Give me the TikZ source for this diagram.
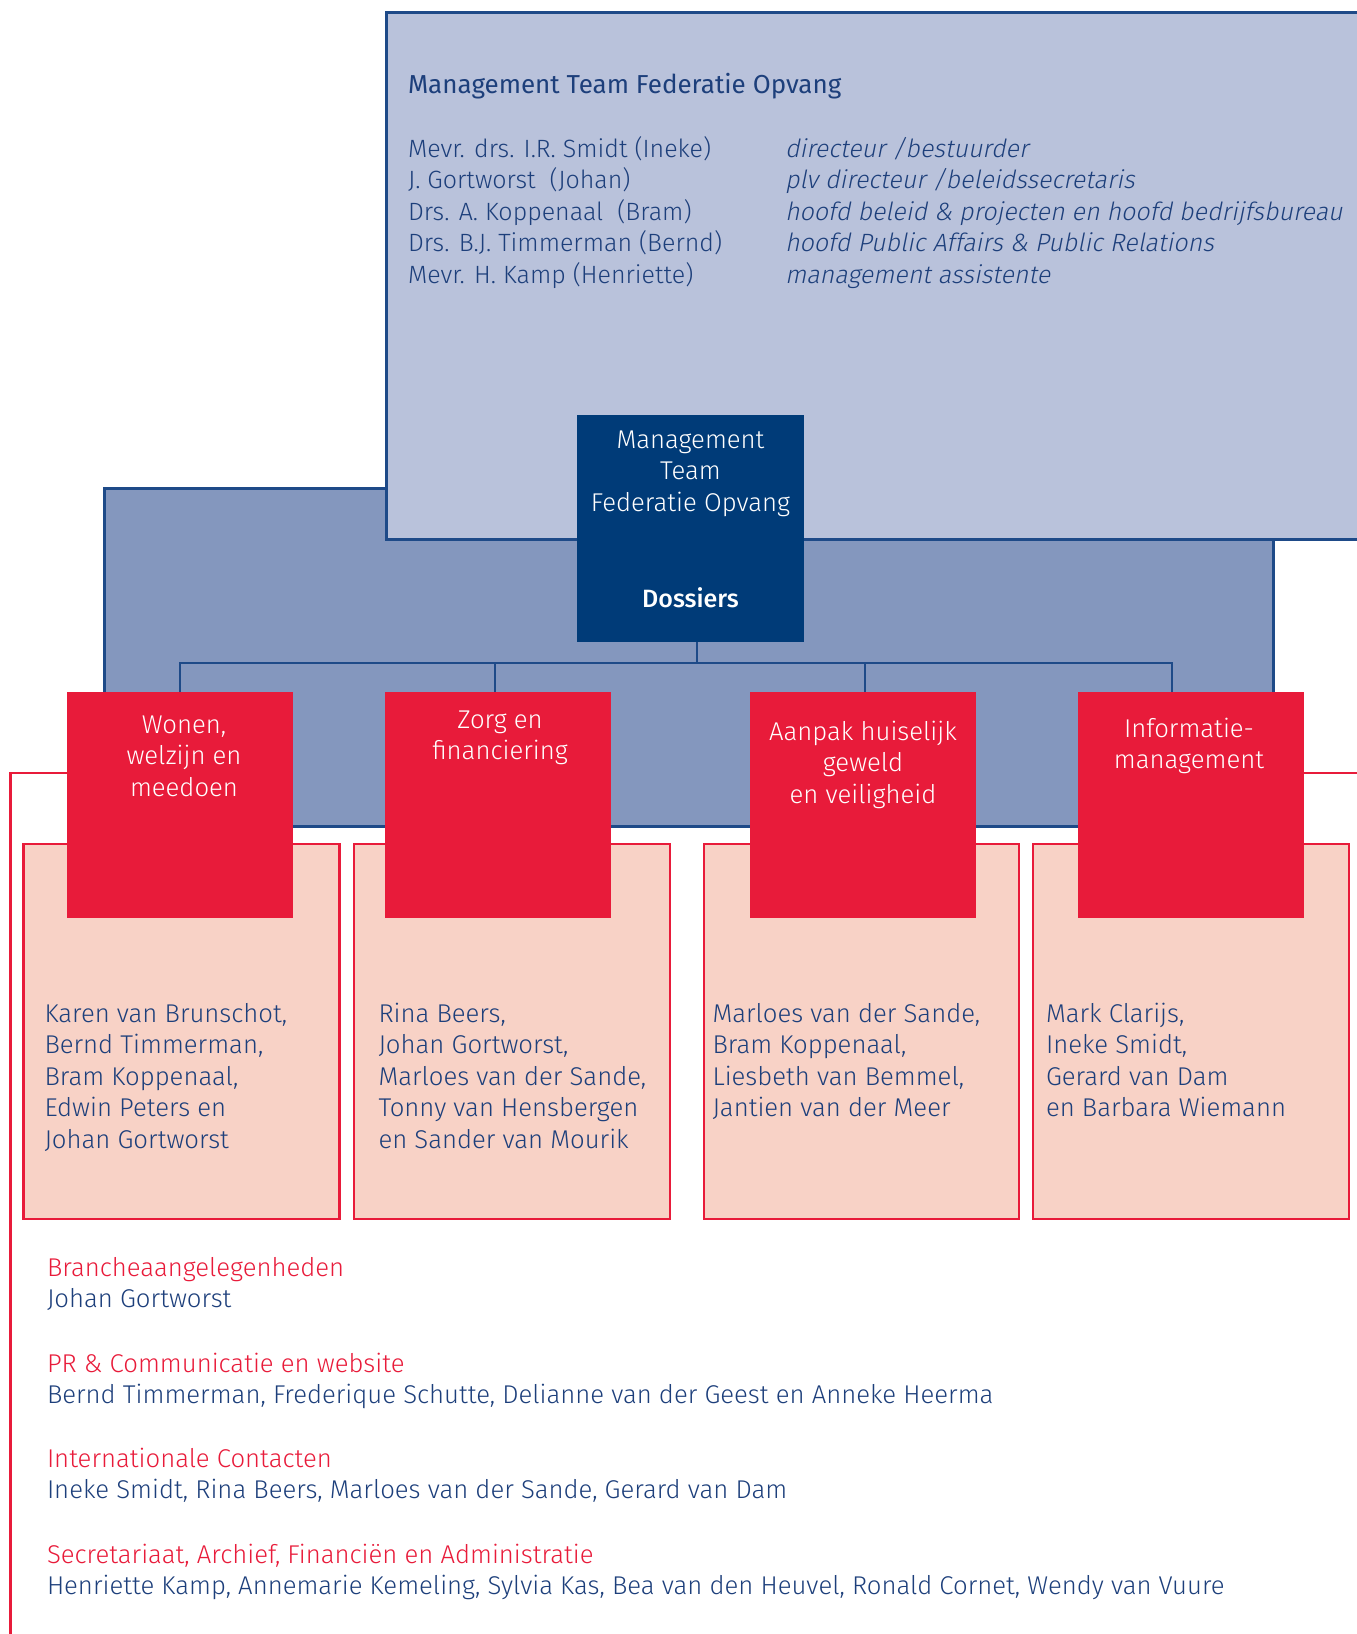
\documentclass[tikz,border=0pt]{standalone}
\usepackage{fontspec}
\newfontfamily\mtregular{Fira Sans}
\IfFontExistsTF{Fira Sans Light}{\setmainfont{Fira Sans Light}
  \newfontfamily\mtitalic{Fira Sans Light}[FakeSlant=0.2]}
  {\setmainfont{Fira Sans}\newfontfamily\mtitalic{Fira Sans}[FakeSlant=0.2]}
\IfFontExistsTF{Fira Sans Medium}{\newfontfamily\mtmedium{Fira Sans Medium}}
  {\def\mtmedium{\mtregular\bfseries}}
\usetikzlibrary{positioning}

\definecolor{mtpale}{HTML}{B9C2DB}
\definecolor{mtmid}{HTML}{8497BE}
\definecolor{mtdark}{HTML}{003B78}
\definecolor{mtline}{HTML}{1E4A88}
\definecolor{mttext}{HTML}{1D3F7B}
\definecolor{fored}{HTML}{E81B3A}
\definecolor{fopink}{HTML}{F8D2C6}

\begin{document}
\begin{tikzpicture}[x=1pt, y=-1pt,
  every node/.style={inner sep=0pt, outer sep=0pt},
  body/.style={font=\fontsize{25.7}{31.5}\selectfont},
  names/.style={body, text=mttext, align=left, anchor=base west},
  board/.style={names, font=\fontsize{25}{31.5}\selectfont},
  heading/.style={body, text=fored, anchor=base west},
  person/.style={body, text=mttext, anchor=base west},
  block/.style={anchor=north west, line width=3pt, draw=mtline},
  team/.style={block, fill=mtpale, minimum width=990pt, minimum height=527pt},
  dossier/.style={block, fill=mtmid, minimum width=1169pt, minimum height=338pt},
  core/.style={anchor=north west, fill=mtdark, minimum size=227pt},
  topic/.style={anchor=north west, fill=fored, minimum size=226pt},
  members/.style={anchor=north west, fill=fopink, draw=fored, line width=2.5pt,
    minimum width=316pt, minimum height=375pt},
  boxtext/.style={body, text=white, align=center, anchor=base},
  link/.style={draw=mtline, line width=2.5pt}]
\useasboundingbox (0,0) rectangle (1357,1634);

% red frame behind everything
\draw[fored, line width=2.5pt] (1367,773) -- (10.5,773) -- (10.5,1644);

% blue blocks
\node (dos) [dossier] at (104,488) {};
\node (team) [team] at (386,12) {};
\node (title) [font=\mtregular\fontsize{26}{31.5}\selectfont, text=mttext,
  anchor=base west] at (408,93) {Management Team Federatie Opvang};
% multi-line nodes sit on the baseline of their last line
\node (who) [board] at (408,283) {Mevr. drs. I.R. Smidt (Ineke)\\
  J. Gortworst\ \ (Johan)\\ Drs. A. Koppenaal\ \ (Bram)\\
  Drs. B.J. Timmerman (Bernd)\\ Mevr. H. Kamp (Henriette)};
\node (role) [board, font=\mtitalic\fontsize{25}{31.5}\selectfont] at (785,283)
  {directeur /bestuurder\\ plv directeur /beleidssecretaris\\
  hoofd beleid \& projecten en hoofd bedrijfsbureau\\
  hoofd Public Affairs \& Public Relations\\ management assistente};

\node (MT) [core] at (577,415) {};
\node [boxtext] at ([yshift=-96pt]MT.north) {Management\\Team\\Federatie Opvang};
\node [boxtext, font=\mtmedium\fontsize{25}{31.5}\selectfont]
  at ([yshift=-192pt]MT.north) {Dossiers};

% member boxes
\node (wonenP) [members] at (23.5,844) {};
\node (zorgP) [members] at (354,844) {};
\node (aanpakP) [members, minimum width=315pt] at (704,844) {};
\node (infoP) [members] at (1033,844) {};

% dossier boxes
\node (wonen) [topic] at (67,692) {};
\node (zorg) [topic] at (385,692) {};
\node (aanpak) [topic] at (750,692) {};
\node (info) [topic] at (1078,692) {};
\node [boxtext] at ([xshift=4pt, yshift=-104pt]wonen.north) {Wonen,\\welzijn en\\meedoen};
\node [boxtext] at ([xshift=2pt, yshift=-67.5pt]zorg.north) {Zorg en\\financiering};
\node [boxtext] at ([yshift=-111pt]aanpak.north) {Aanpak huiselijk\\geweld\\en veiligheid};
\node [boxtext] at ([xshift=-2pt, yshift=-76.5pt]info.north) {Informatie-\\management};

% connectors
\coordinate (bus) at (697,663);
\coordinate (zorgdrop) at ([xshift=-3pt]zorg.north);
\coordinate (aanpakdrop) at ([xshift=2pt]aanpak.north);
\coordinate (infodrop) at ([xshift=-19pt]info.north);
\draw[link] (MT.south -| bus) -- (bus);
\draw[link] (wonen.north) -- (wonen.north |- bus) -- (infodrop |- bus) -- (infodrop);
\draw[link] (zorgdrop |- bus) -- (zorgdrop);
\draw[link] (aanpakdrop |- bus) -- (aanpakdrop);

% names in the member boxes
\node (wonenN) [names] at (44.5,1148) {Karen van Brunschot,\\Bernd Timmerman,\\
  Bram Koppenaal,\\Edwin Peters en\\Johan Gortworst};
\node (zorgN) [names] at (378.5,1148) {Rina Beers,\\Johan Gortworst,\\
  Marloes van der Sande,\\Tonny van Hensbergen\\en Sander van Mourik};
\node (aanpakN) [names] at (712.5,1116.5) {Marloes van der Sande,\\Bram Koppenaal,\\
  Liesbeth van Bemmel,\\Jantien van der Meer};
\node (infoN) [names] at (1046,1116.5) {Mark Clarijs,\\Ineke Smidt,\\
  Gerard van Dam\\en Barbara Wiemann};

% other tasks
\node (branche) [heading] at (47,1276) {Brancheaangelegenheden};
\node (brancheP) [person] at (47,1307) {Johan Gortworst};
\node (pr) [heading] at (47,1372) {PR \& Communicatie en website};
\node (prP) [person] at (47,1403) {Bernd Timmerman, Frederique Schutte, Delianne van der Geest en Anneke Heerma};
\node (intl) [heading] at (47,1467) {Internationale Contacten};
\node (intlP) [person] at (47,1498) {Ineke Smidt, Rina Beers, Marloes van der Sande, Gerard van Dam};
\node (secr) [heading] at (47,1563) {Secretariaat, Archief, Financiën en Administratie};
\node (secrP) [person] at (47,1594) {Henriette Kamp, Annemarie Kemeling, Sylvia Kas, Bea van den Heuvel, Ronald Cornet, Wendy van Vuure};
\end{tikzpicture}
\end{document}
